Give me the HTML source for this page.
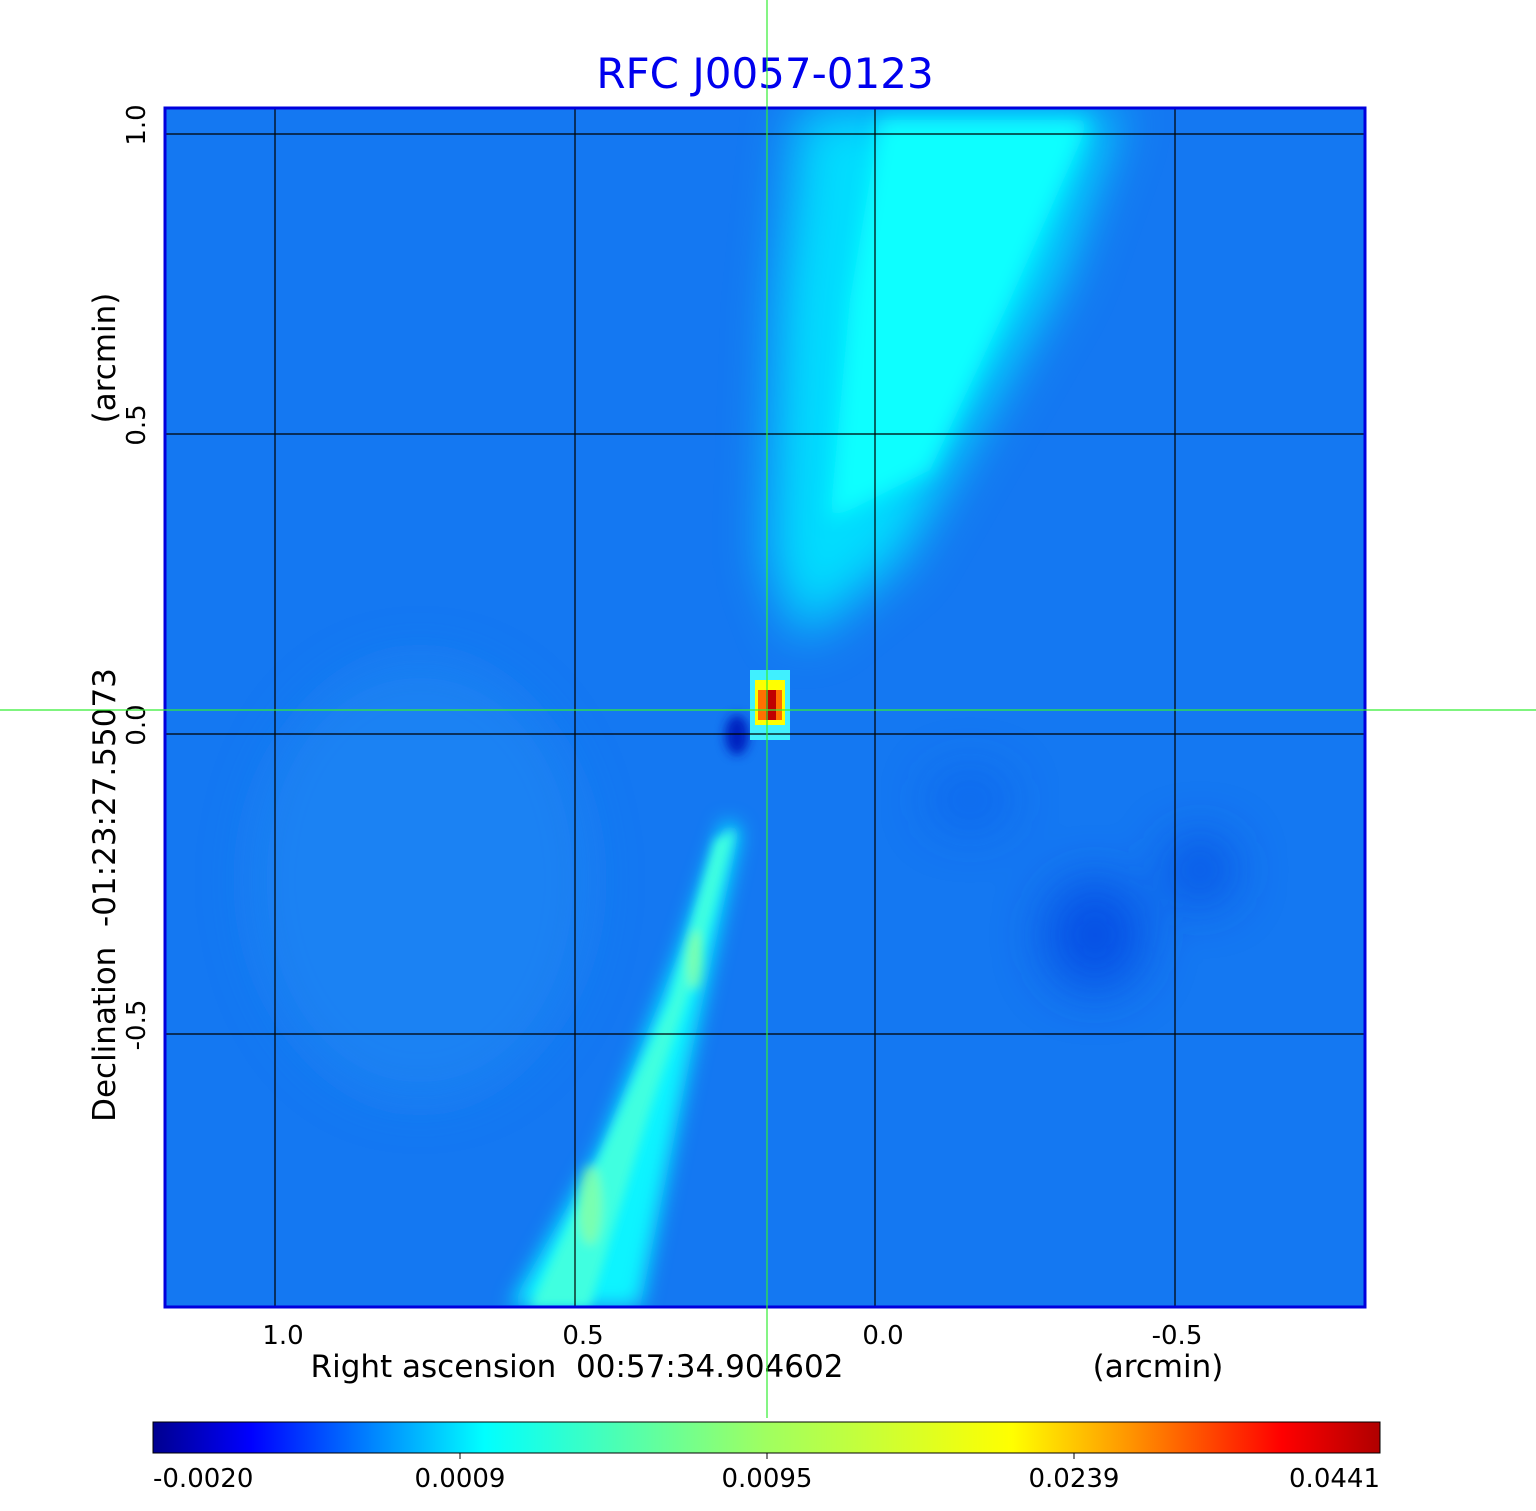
<!DOCTYPE html>
<html><head><meta charset="utf-8"><style>
body{margin:0;background:#fff;}
svg{display:block;font-family:"DejaVu Sans","Liberation Sans",sans-serif;}
</style></head><body>
<svg width="1536" height="1511" viewBox="0 0 1536 1511" xmlns="http://www.w3.org/2000/svg">
<defs>
<filter id="b1" x="-50%" y="-50%" width="200%" height="200%"><feGaussianBlur stdDeviation="25"/></filter>
<filter id="b2" x="-50%" y="-50%" width="200%" height="200%"><feGaussianBlur stdDeviation="10"/></filter>
<filter id="b3" x="-50%" y="-50%" width="200%" height="200%"><feGaussianBlur stdDeviation="5"/></filter>
<clipPath id="cp"><rect x="165" y="108" width="1200" height="1199"/></clipPath>
<linearGradient id="jet" x1="0" x2="1" y1="0" y2="0">
<stop offset="0" stop-color="#00008f"/>
<stop offset="0.08" stop-color="#0000ff"/>
<stop offset="0.27" stop-color="#00ffff"/>
<stop offset="0.5" stop-color="#a0ff60"/>
<stop offset="0.7" stop-color="#ffff00"/>
<stop offset="0.8" stop-color="#ff9000"/>
<stop offset="0.92" stop-color="#ff0000"/>
<stop offset="1" stop-color="#b00000"/>
</linearGradient>
</defs>
<text x="765" y="88" font-size="42" fill="#0000ee" text-anchor="middle">RFC J0057-0123</text>
<g clip-path="url(#cp)">
<rect x="165" y="108" width="1200" height="1199" fill="#1478f2"/>
<g filter="url(#b1)">
<ellipse cx="420" cy="880" rx="170" ry="220" fill="#2a90f6" opacity="0.4"/>
<ellipse cx="1095" cy="935" rx="50" ry="55" fill="#0840e0" opacity="0.7"/>
<ellipse cx="1200" cy="870" rx="35" ry="35" fill="#0840e0" opacity="0.6"/>
<ellipse cx="970" cy="800" rx="40" ry="30" fill="#1050e8" opacity="0.4"/>
<polygon points="800,108 1120,108 1060,280 980,420 900,560 800,640 770,560 780,300" fill="#00e8ff" opacity="0.9"/>
</g>
<g filter="url(#b2)">
<polygon points="880,120 1090,120 1010,300 930,470 830,520 850,300" fill="#10ffff"/>
<polygon points="510,1307 640,1307 690,1060 740,830 725,820 680,950 600,1150" fill="#10f4ff"/>
</g>
<g filter="url(#b3)">
<polygon points="530,1307 590,1307 650,1110 700,960 735,830 715,840 670,1000 580,1200" fill="#40ffe0"/>
<ellipse cx="590" cy="1205" rx="12" ry="40" fill="#a0ff90" opacity="0.6"/>
<ellipse cx="695" cy="960" rx="8" ry="30" fill="#a0ff90" opacity="0.6"/>
<ellipse cx="737" cy="735" rx="12" ry="20" fill="#0020c0"/>
</g>
<rect x="750" y="670" width="40" height="70" fill="#40f0ff"/>
<rect x="755" y="680" width="30" height="45" fill="#ffff00"/>
<rect x="758" y="690" width="24" height="30" fill="#ff7000"/>
<rect x="766" y="690" width="10" height="30" fill="#c00000"/>
<g stroke="#000" stroke-width="1.2">
<line x1="275" y1="108" x2="275" y2="1307"/><line x1="575" y1="108" x2="575" y2="1307"/>
<line x1="875" y1="108" x2="875" y2="1307"/><line x1="1175" y1="108" x2="1175" y2="1307"/>
<line x1="165" y1="134" x2="1365" y2="134"/><line x1="165" y1="434" x2="1365" y2="434"/>
<line x1="165" y1="734" x2="1365" y2="734"/><line x1="165" y1="1034" x2="1365" y2="1034"/>
</g>
</g>
<rect x="165" y="108" width="1200" height="1199" fill="none" stroke="#0000dd" stroke-width="3"/>
<g font-size="26" fill="#000" text-anchor="middle">
<text x="283" y="1344">1.0</text><text x="583" y="1344">0.5</text>
<text x="883" y="1344">0.0</text><text x="1177" y="1344">-0.5</text>
<text x="577" y="1377" font-size="31">Right ascension&#160;&#160;00:57:34.904602</text>
<text x="1158" y="1377" font-size="31">(arcmin)</text>
<text transform="translate(145,125) rotate(-90)">1.0</text>
<text transform="translate(145,425) rotate(-90)">0.5</text>
<text transform="translate(145,725) rotate(-90)">0.0</text>
<text transform="translate(145,1025) rotate(-90)">-0.5</text>
<text transform="translate(115,358) rotate(-90)" font-size="31">(arcmin)</text>
<text transform="translate(115,895) rotate(-90)" font-size="31">Declination&#160;&#160;-01:23:27.55073</text>
</g>
<rect x="153" y="1422" width="1227" height="31" fill="url(#jet)" stroke="#000" stroke-width="1"/>
<g stroke="#000"><line x1="460" y1="1453" x2="460" y2="1459"/><line x1="767" y1="1453" x2="767" y2="1459"/><line x1="1074" y1="1453" x2="1074" y2="1459"/></g>
<g font-size="26" fill="#000">
<text x="153" y="1487">-0.0020</text>
<text x="460" y="1487" text-anchor="middle">0.0009</text>
<text x="767" y="1487" text-anchor="middle">0.0095</text>
<text x="1074" y="1487" text-anchor="middle">0.0239</text>
<text x="1380" y="1487" text-anchor="end">0.0441</text>
</g>
<line x1="767" y1="0" x2="767" y2="1418" stroke="#33ee33" stroke-width="1.2"/>
<line x1="0" y1="710" x2="1536" y2="710" stroke="#33ee33" stroke-width="1.2"/>
</svg>
</body></html>
